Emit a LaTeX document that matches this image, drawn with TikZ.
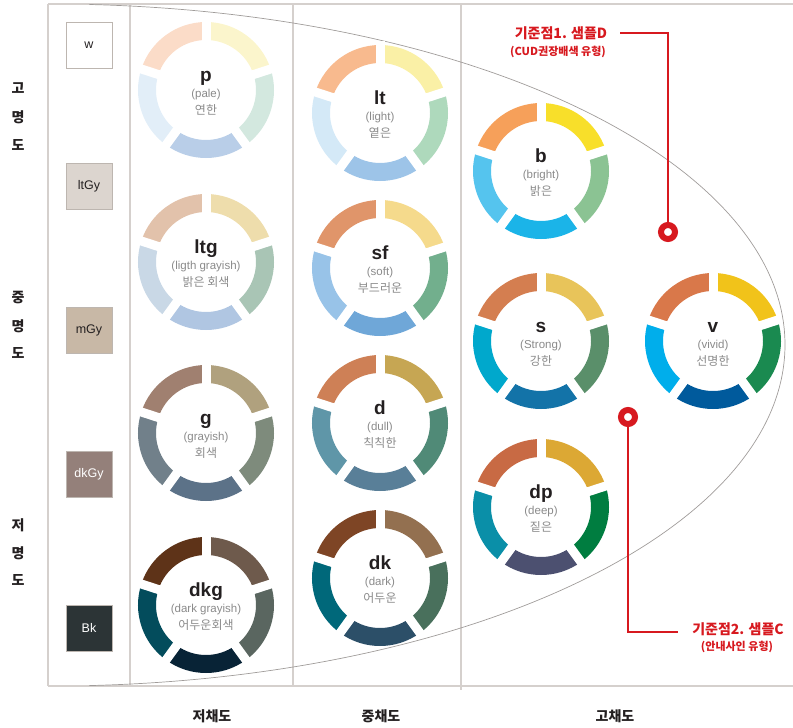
\documentclass[tikz,border=0pt]{standalone}
\usepackage{fontspec}
\setmainfont{Liberation Sans}
\newfontfamily\kr{Noto Sans CJK KR}
\usetikzlibrary{calc}
% ring colours: TL, TR, R, B, L
\definecolor{pA}{HTML}{FBDCC8}\definecolor{pB}{HTML}{FBF5CC}\definecolor{pC}{HTML}{D3E8DF}\definecolor{pD}{HTML}{B9CEE8}\definecolor{pE}{HTML}{E2EEF8}
\definecolor{ltgA}{HTML}{E2C2AB}\definecolor{ltgB}{HTML}{EEDDAC}\definecolor{ltgC}{HTML}{A9C5B5}\definecolor{ltgD}{HTML}{B0C6E2}\definecolor{ltgE}{HTML}{C9D8E6}
\definecolor{gA}{HTML}{A08070}\definecolor{gB}{HTML}{B0A17E}\definecolor{gC}{HTML}{7E8B7C}\definecolor{gD}{HTML}{5C7288}\definecolor{gE}{HTML}{71808A}
\definecolor{dkgA}{HTML}{5E3318}\definecolor{dkgB}{HTML}{6E5A4C}\definecolor{dkgC}{HTML}{5A6660}\definecolor{dkgD}{HTML}{082336}\definecolor{dkgE}{HTML}{034C5C}
\definecolor{ltA}{HTML}{F8BA8E}\definecolor{ltB}{HTML}{FAF0A6}\definecolor{ltC}{HTML}{AED9BC}\definecolor{ltD}{HTML}{9DC4E8}\definecolor{ltE}{HTML}{D4E9F7}
\definecolor{sfA}{HTML}{E0956A}\definecolor{sfB}{HTML}{F5DA8C}\definecolor{sfC}{HTML}{72AF8D}\definecolor{sfD}{HTML}{6FA7D8}\definecolor{sfE}{HTML}{98C3E8}
\definecolor{dA}{HTML}{CE8056}\definecolor{dB}{HTML}{C6A653}\definecolor{dC}{HTML}{508A77}\definecolor{dD}{HTML}{597F98}\definecolor{dE}{HTML}{5F96A8}
\definecolor{dkA}{HTML}{7E4525}\definecolor{dkB}{HTML}{937050}\definecolor{dkC}{HTML}{49705C}\definecolor{dkD}{HTML}{2C4F68}\definecolor{dkE}{HTML}{00687A}
\definecolor{bA}{HTML}{F6A05A}\definecolor{bB}{HTML}{F8DF2A}\definecolor{bC}{HTML}{8BC393}\definecolor{bD}{HTML}{1BB4E8}\definecolor{bE}{HTML}{55C4EE}
\definecolor{sA}{HTML}{D47E50}\definecolor{sB}{HTML}{E8C45A}\definecolor{sC}{HTML}{5A8F6A}\definecolor{sD}{HTML}{1373A8}\definecolor{sE}{HTML}{00A8CC}
\definecolor{dpA}{HTML}{C86A44}\definecolor{dpB}{HTML}{DCA834}\definecolor{dpC}{HTML}{007D40}\definecolor{dpD}{HTML}{4C5070}\definecolor{dpE}{HTML}{0A8FA8}
\definecolor{vA}{HTML}{D9784A}\definecolor{vB}{HTML}{F1C31A}\definecolor{vC}{HTML}{1A8A50}\definecolor{vD}{HTML}{005A9C}\definecolor{vE}{HTML}{00AEEB}
\definecolor{framecol}{HTML}{D5D0CD}
\definecolor{curvecol}{HTML}{A09C9A}
\definecolor{txtdark}{HTML}{231F20}
\definecolor{txtgray}{HTML}{8A8A8A}
\definecolor{redc}{HTML}{D7191F}
\definecolor{boxline}{HTML}{BDB6B0}
\definecolor{ltGyc}{HTML}{DCD5CF}
\definecolor{mGyc}{HTML}{C8B8A6}
\definecolor{dkGyc}{HTML}{94807A}
\definecolor{Bkc}{HTML}{2C3436}
\begin{document}
\begin{tikzpicture}[x=1pt,y=1pt,
  frame/.style={draw=framecol,line width=1.2pt},
  curve/.style={draw=curvecol,line width=0.7pt},
  lettxt/.style={inner sep=0pt,anchor=base,text=txtdark,font=\bfseries\fontsize{19}{20}\selectfont},
  subtxt/.style={inner sep=0pt,text=txtgray,font=\fontsize{11.5}{12}\selectfont},
  krtxt/.style={inner sep=0pt,text=txtgray,font=\kr\fontsize{12}{12}\selectfont},
  sidelab/.style={inner sep=0pt,text=txtdark,font=\kr\bfseries\fontsize{14}{14}\selectfont},
  botlab/.style={inner sep=0pt,text=txtdark,font=\kr\bfseries\fontsize{14}{14}\selectfont},
  graybox/.style={draw=boxline,line width=0.6pt,minimum size=46pt,inner sep=0pt,font=\fontsize{12.5}{12}\selectfont,text=txtdark},
  reddot/.style={circle,draw=redc,line width=6pt,fill=white,minimum size=14pt,inner sep=0pt},
  redline/.style={draw=redc,line width=2.6pt},
  redbig/.style={inner sep=0pt,text=redc,font=\kr\bfseries\fontsize{14}{14}\selectfont},
  redsmall/.style={inner sep=0pt,text=redc,font=\kr\bfseries\fontsize{11}{11}\selectfont},
  pics/ring/.style n args={8}{code={
    \fill[#1] (90:68) arc[start angle=90,end angle=162,radius=68] -- (162:50) arc[start angle=162,end angle=90,radius=50] -- cycle;
    \fill[#2] (18:68) arc[start angle=18,end angle=90,radius=68] -- (90:50) arc[start angle=90,end angle=18,radius=50] -- cycle;
    \fill[#3] (-54:68) arc[start angle=-54,end angle=18,radius=68] -- (18:50) arc[start angle=18,end angle=-54,radius=50] -- cycle;
    \fill[#4] (-126:68) arc[start angle=-126,end angle=-54,radius=68] -- (-54:50) arc[start angle=-54,end angle=-126,radius=50] -- cycle;
    \fill[#5] (162:68) arc[start angle=162,end angle=234,radius=68] -- (234:50) arc[start angle=234,end angle=162,radius=50] -- cycle;
    \foreach \a in {90,18,-54,-126,162} \draw[white,line width=9pt] (\a:46) -- (\a:72);
    \node[lettxt] (-l) at (0,8.5) {#6};
    \node[subtxt] (-e) at (0,-4.5) {#7};
    \node[krtxt] (-k) at (0,-20) {#8};
  }}
]
\useasboundingbox (0,0) rectangle (793,-728);
% frame
\draw[frame] (48,-4) -- (793,-4);
\draw[frame] (48,-686) -- (793,-686);
\draw[frame] (48,-4) -- (48,-686);
\draw[frame] (130,-4) -- (130,-686);
\draw[frame] (293,-4) -- (293,-686);
\draw[frame] (461,-4) -- (461,-690);
% boundary curve
\draw[curve] (89.4,-4.5) arc[start angle=87,end angle=-87,x radius=734,y radius=341];
% gray scale boxes
\node[graybox,fill=white] (w) at (89,-45) {w};
\node[graybox,fill=ltGyc] (ltGy) at (89,-186) {ltGy};
\node[graybox,fill=mGyc] (mGy) at (89,-330) {mGy};
\node[graybox,fill=dkGyc,text=white] (dkGy) at (89,-474) {dkGy};
\node[graybox,fill=Bkc,text=white] (Bk) at (89,-628) {Bk};
% side labels
\node[sidelab] (h1) at (18,-88) {고};
\node[sidelab] (h2) at (18,-117) {명};
\node[sidelab] (h3) at (18,-145) {도};
\node[sidelab] (m1) at (18,-298) {중};
\node[sidelab] (m2) at (18,-326) {명};
\node[sidelab] (m3) at (18,-353) {도};
\node[sidelab] (o1) at (18,-525) {저};
\node[sidelab] (o2) at (18,-553) {명};
\node[sidelab] (o3) at (18,-580) {도};
% rings
\pic (p) at (206,-90) {ring={pA}{pB}{pC}{pD}{pE}{p}{(pale)}{연한}};
\pic (ltg) at (206,-262) {ring={ltgA}{ltgB}{ltgC}{ltgD}{ltgE}{ltg}{(ligth grayish)}{밝은 회색}};
\pic (g) at (206,-433) {ring={gA}{gB}{gC}{gD}{gE}{g}{(grayish)}{회색}};
\pic (dkg) at (206,-605) {ring={dkgA}{dkgB}{dkgC}{dkgD}{dkgE}{dkg}{(dark grayish)}{어두운회색}};
\pic (lt) at (380,-113) {ring={ltA}{ltB}{ltC}{ltD}{ltE}{lt}{(light)}{옅은}};
\pic (sf) at (380,-268) {ring={sfA}{sfB}{sfC}{sfD}{sfE}{sf}{(soft)}{부드러운}};
\pic (d) at (380,-423) {ring={dA}{dB}{dC}{dD}{dE}{d}{(dull)}{칙칙한}};
\pic (dk) at (380,-578) {ring={dkA}{dkB}{dkC}{dkD}{dkE}{dk}{(dark)}{어두운}};
\pic (b) at (541,-171) {ring={bA}{bB}{bC}{bD}{bE}{b}{(bright)}{밝은}};
\pic (s) at (541,-341) {ring={sA}{sB}{sC}{sD}{sE}{s}{(Strong)}{강한}};
\pic (dp) at (541,-507) {ring={dpA}{dpB}{dpC}{dpD}{dpE}{dp}{(deep)}{짙은}};
\pic (v) at (713,-341) {ring={vA}{vB}{vC}{vD}{vE}{v}{(vivid)}{선명한}};
% bottom labels
\node[botlab] (lowc) at (212,-716) {저채도};
\node[botlab] (midc) at (381,-716) {중채도};
\node[botlab] (highc) at (615,-716) {고채도};
% reference points
\node[reddot] (d1) at (668,-232) {};
\coordinate (c1) at (620,-33);
\draw[redline] (d1) |- (c1);
\node[redbig] (l1a) at (561,-33) {기준점1. 샘플D};
\node[redsmall] (l1b) at (558,-52) {(CUD권장배색 유형)};
\node[reddot] (d2) at (628,-417) {};
\coordinate (c2) at (678,-632);
\draw[redline] (d2) |- (c2);
\node[redbig] (l2a) at (738,-629) {기준점2. 샘플C};
\node[redsmall] (l2b) at (737,-647) {(안내사인 유형)};
\end{tikzpicture}
\end{document}
